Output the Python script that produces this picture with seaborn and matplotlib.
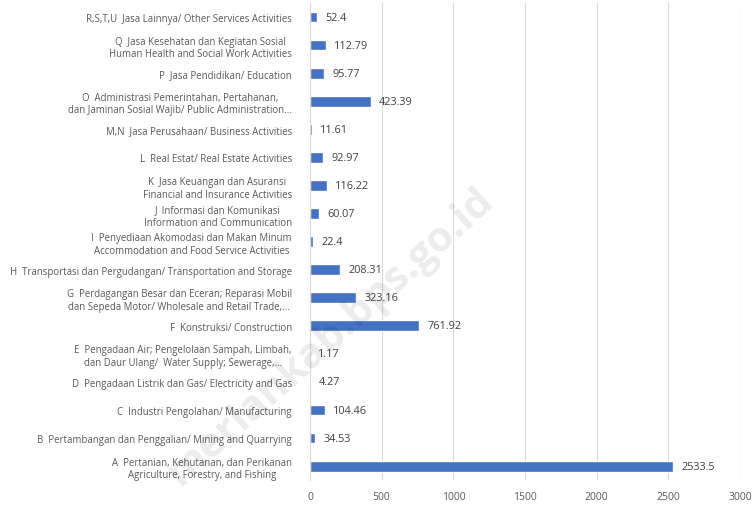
import matplotlib
matplotlib.use("Agg")
import matplotlib.pyplot as plt
import seaborn as sns
import pandas as pd

categories = [
    "R,S,T,U  Jasa Lainnya/ Other Services Activities",
    "Q  Jasa Kesehatan dan Kegiatan Sosial\nHuman Health and Social Work Activities",
    "P  Jasa Pendidikan/ Education",
    "O  Administrasi Pemerintahan, Pertahanan,\ndan Jaminan Sosial Wajib/ Public Administration...",
    "M,N  Jasa Perusahaan/ Business Activities",
    "L  Real Estat/ Real Estate Activities",
    "K  Jasa Keuangan dan Asuransi\nFinancial and Insurance Activities",
    "J  Informasi dan Komunikasi\nInformation and Communication",
    "I  Penyediaan Akomodasi dan Makan Minum\nAccommodation and Food Service Activities",
    "H  Transportasi dan Pergudangan/ Transportation and Storage",
    "G  Perdagangan Besar dan Eceran; Reparasi Mobil\ndan Sepeda Motor/ Wholesale and Retail Trade,...",
    "F  Konstruksi/ Construction",
    "E  Pengadaan Air; Pengelolaan Sampah, Limbah,\ndan Daur Ulang/  Water Supply; Sewerage,...",
    "D  Pengadaan Listrik dan Gas/ Electricity and Gas",
    "C  Industri Pengolahan/ Manufacturing",
    "B  Pertambangan dan Penggalian/ Mining and Quarrying",
    "A  Pertanian, Kehutanan, dan Perikanan\nAgriculture, Forestry, and Fishing",
]
values = [52.4, 112.79, 95.77, 423.39, 11.61, 92.97, 116.22, 60.07, 22.4,
          208.31, 323.16, 761.92, 1.17, 4.27, 104.46, 34.53, 2533.5]
value_labels = ["52.4", "112.79", "95.77", "423.39", "11.61", "92.97", "116.22",
                "60.07", "22.4", "208.31", "323.16", "761.92", "1.17", "4.27",
                "104.46", "34.53", "2533.5"]
x_ticks = [0, 500, 1000, 1500, 2000, 2500, 3000]

sns.set_theme(style="white")
plt.rcParams['font.family'] = ['Open Sans', 'DejaVu Sans']

df = pd.DataFrame({"cat": categories, "val": values})

fig = plt.figure(figsize=(7.56, 5.06), dpi=100)
ax = fig.add_axes([0.41, 0.049, 0.569, 0.943])

sns.barplot(data=df, y="cat", x="val", orient="h", color="#4472C4",
            width=0.38, saturation=1, ax=ax)

for bar, lab in zip(ax.patches, value_labels):
    ax.annotate(lab, (bar.get_width(), bar.get_y() + bar.get_height() / 2),
                xytext=(6, 0), textcoords="offset points", va="center",
                ha="left", fontsize=7.8, color="#404040")

ax.set_xlim(0, 3000)
ax.set_xticks(x_ticks)
ax.set_xticklabels([str(t) for t in x_ticks], fontsize=7.5, color="#595959")
ax.tick_params(axis="y", labelsize=6.9, labelcolor="#595959", length=0, pad=13)
ax.tick_params(axis="x", length=0, pad=8)
for lab in ax.get_yticklabels():
    lab.set_horizontalalignment("right")
    lab.set_multialignment("center")
ax.set_xlabel("")
ax.set_ylabel("")
ax.grid(axis="x", color="#D9D9D9", linewidth=0.8)
ax.set_axisbelow(True)
for s in ["top", "right", "bottom"]:
    ax.spines[s].set_visible(False)
ax.spines["left"].set_color("#D9D9D9")
ax.spines["left"].set_linewidth(0.8)

fig.text(0.437, 0.334, "merlankab.bps.go.id", rotation=42, fontsize=30,
         fontweight="bold", color="#000000", alpha=0.08, ha="center",
         va="center")

fig.savefig("out.png", dpi=100)
